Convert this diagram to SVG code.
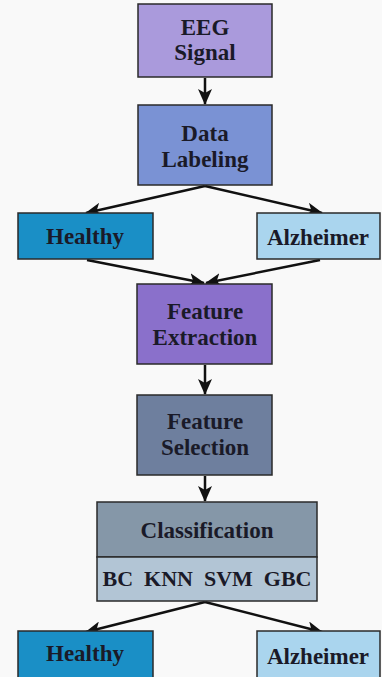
<svg xmlns="http://www.w3.org/2000/svg" width="382" height="677" viewBox="0 0 382 677">
<style>
.box{stroke:#2a2a2a;stroke-width:1.5}
.t{font-family:"Liberation Serif","Times New Roman",serif;font-weight:bold;font-size:23px;fill:#1a1a28;text-anchor:middle}
.s{font-size:22px}
.c{stroke:#111;stroke-width:2.5;fill:none;marker-end:url(#ah)}
</style>
<defs>
<marker id="ah" markerWidth="16" markerHeight="14" refX="15" refY="7" orient="auto" markerUnits="userSpaceOnUse" viewBox="0 0 16 14">
<path d="M0,0 L16,7 L0,14 L4,7 Z" fill="#111"/>
</marker>
</defs>
<rect width="382" height="677" fill="#f9f9f9"/>
<g id="connectors">
<line class="c" x1="205" y1="78" x2="205" y2="104"/>
<line class="c" x1="205" y1="186" x2="86" y2="213"/>
<line class="c" x1="205" y1="186" x2="322" y2="213"/>
<line class="c" x1="87" y1="260" x2="204" y2="283"/>
<line class="c" x1="320" y1="260" x2="206" y2="283"/>
<line class="c" x1="205" y1="365" x2="205" y2="394"/>
<line class="c" x1="205" y1="476" x2="205" y2="501"/>
<line class="c" x1="205" y1="602" x2="86" y2="632"/>
<line class="c" x1="205" y1="602" x2="322" y2="632"/>
</g>
<g id="eeg">
<rect class="box" x="138" y="4" width="134" height="73" fill="#aa9adc"/>
<text class="t" x="205" y="35">EEG</text>
<text class="t" x="205" y="60">Signal</text>
</g>
<g id="labeling">
<rect class="box" x="138" y="105" width="134" height="80" fill="#7a92d4"/>
<text class="t" x="205" y="141">Data</text>
<text class="t" x="205" y="167">Labeling</text>
</g>
<g id="healthy1">
<rect class="box" x="18" y="213" width="135" height="46" fill="#1a8fc6"/>
<text class="t" x="85" y="244">Healthy</text>
</g>
<g id="alz1">
<rect class="box" x="257" y="213" width="123" height="46" fill="#aad5ee"/>
<text class="t" x="318" y="245">Alzheimer</text>
</g>
<g id="extraction">
<rect class="box" x="137" y="284" width="135" height="80" fill="#8a70cb"/>
<text class="t" x="205" y="319">Feature</text>
<text class="t" x="205" y="345">Extraction</text>
</g>
<g id="selection">
<rect class="box" x="137" y="395" width="135" height="80" fill="#6e7f9e"/>
<text class="t" x="205" y="429">Feature</text>
<text class="t" x="205" y="455">Selection</text>
</g>
<g id="classification">
<rect class="box" x="97" y="502" width="220" height="55" fill="#8597a8"/>
<rect class="box" x="97" y="557" width="220" height="44" fill="#b2c5d5"/>
<text class="t" x="207" y="538">Classification</text>
<text class="t s" x="207" y="586" xml:space="preserve">BC  KNN  SVM  GBC</text>
</g>
<g id="healthy2">
<rect class="box" x="18" y="631" width="135" height="50" fill="#1a8fc6"/>
<text class="t" x="85" y="661">Healthy</text>
</g>
<g id="alz2">
<rect class="box" x="257" y="631" width="123" height="50" fill="#aad5ee"/>
<text class="t" x="318" y="664">Alzheimer</text>
</g>
</svg>
